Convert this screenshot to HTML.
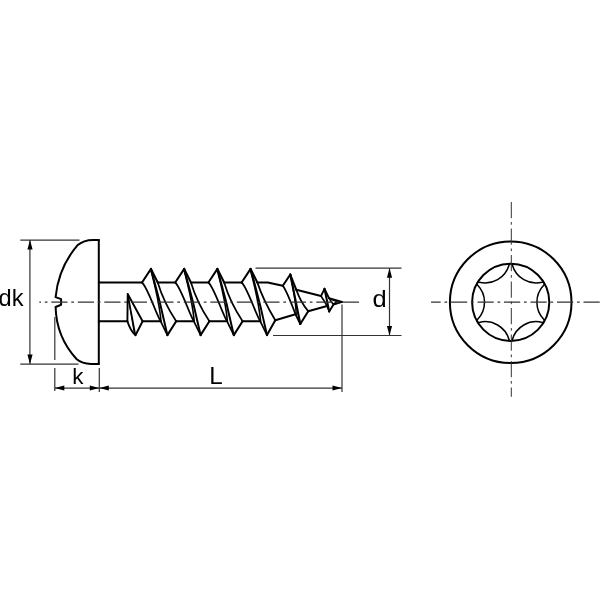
<!DOCTYPE html>
<html><head><meta charset="utf-8"><title>Screw drawing</title>
<style>
html,body{margin:0;padding:0;background:#fff;}
body{width:600px;height:600px;overflow:hidden;font-family:"Liberation Sans",sans-serif;}
svg{display:block;filter:grayscale(1);will-change:transform;}
</style></head><body>
<svg width="600" height="600" viewBox="0 0 600 600">
<rect width="600" height="600" fill="#fff"/>
<path d="M98.8,239.9 L93.2,239.9 Q83.5,239.9 77.4,245.3 A94,94 0 0 0 55.6,297.1 L61.1,299.1 L61.1,304.8 L55.6,307 A80,80 0 0 0 76.5,359 Q82,363.9 91,363.9 L98.8,363.9" fill="none" stroke="#000" stroke-width="2.0" stroke-linejoin="round" stroke-linecap="round" />
<path d="M98.8,239.9 L98.8,363.9" fill="none" stroke="#000" stroke-width="2.0" stroke-linejoin="round" stroke-linecap="round" />
<path d="M98.8,281 Q98.8,282.5 100.5,282.5" fill="none" stroke="#000" stroke-width="1.2" stroke-linejoin="round" stroke-linecap="round" />
<path d="M98.8,322.8 Q98.8,321.3 100.5,321.3" fill="none" stroke="#000" stroke-width="1.2" stroke-linejoin="round" stroke-linecap="round" />
<path d="M98.8,282.50 L142,282.50" fill="none" stroke="#000" stroke-width="2.0" stroke-linejoin="round" stroke-linecap="round" />
<path d="M98.8,321.30 L127.4,321.30" fill="none" stroke="#000" stroke-width="2.0" stroke-linejoin="round" stroke-linecap="round" />
<path d="M142.6,321.30 L160.7,321.30" fill="none" stroke="#000" stroke-width="2.0" stroke-linejoin="round" stroke-linecap="round" />
<path d="M142.00,282.50 L151.00,268.90" fill="none" stroke="#000" stroke-width="2.0" stroke-linejoin="round" stroke-linecap="round" />
<path d="M151.00,268.90 L157.75,282.50" fill="none" stroke="#000" stroke-width="2.0" stroke-linejoin="round" stroke-linecap="round" />
<path d="M151.00,268.90 Q160.20,301.50 167.40,335.10" fill="none" stroke="#000" stroke-width="2.0" stroke-linejoin="round" stroke-linecap="round" />
<path d="M150.80,269.90 Q159.30,301.90 161.00,321.30" fill="none" stroke="#000" stroke-width="1.6" stroke-linejoin="round" stroke-linecap="round" />
<path d="M142.00,282.50 C147.50,287.00 156.20,314.30 160.70,321.30 L167.40,335.10" fill="none" stroke="#000" stroke-width="1.7" stroke-linejoin="round" stroke-linecap="round" />
<path d="M157.75,282.50 Q163.70,302.40 176.20,321.30" fill="none" stroke="#000" stroke-width="1.7" stroke-linejoin="round" stroke-linecap="round" />
<path d="M167.40,335.10 L176.20,321.30" fill="none" stroke="#000" stroke-width="2.0" stroke-linejoin="round" stroke-linecap="round" />
<path d="M157.75,282.50 L175.20,282.50" fill="none" stroke="#000" stroke-width="2.0" stroke-linejoin="round" stroke-linecap="round" />
<path d="M176.20,321.30 L193.90,321.30" fill="none" stroke="#000" stroke-width="2.0" stroke-linejoin="round" stroke-linecap="round" />
<path d="M175.20,282.50 L184.20,268.90" fill="none" stroke="#000" stroke-width="2.0" stroke-linejoin="round" stroke-linecap="round" />
<path d="M184.20,268.90 L190.95,282.50" fill="none" stroke="#000" stroke-width="2.0" stroke-linejoin="round" stroke-linecap="round" />
<path d="M184.20,268.90 Q193.40,301.50 200.60,335.10" fill="none" stroke="#000" stroke-width="2.0" stroke-linejoin="round" stroke-linecap="round" />
<path d="M184.00,269.90 Q192.50,301.90 194.20,321.30" fill="none" stroke="#000" stroke-width="1.6" stroke-linejoin="round" stroke-linecap="round" />
<path d="M175.20,282.50 C180.70,287.00 189.40,314.30 193.90,321.30 L200.60,335.10" fill="none" stroke="#000" stroke-width="1.7" stroke-linejoin="round" stroke-linecap="round" />
<path d="M190.95,282.50 Q196.90,302.40 209.40,321.30" fill="none" stroke="#000" stroke-width="1.7" stroke-linejoin="round" stroke-linecap="round" />
<path d="M200.60,335.10 L209.40,321.30" fill="none" stroke="#000" stroke-width="2.0" stroke-linejoin="round" stroke-linecap="round" />
<path d="M190.95,282.50 L208.40,282.50" fill="none" stroke="#000" stroke-width="2.0" stroke-linejoin="round" stroke-linecap="round" />
<path d="M209.40,321.30 L227.10,321.30" fill="none" stroke="#000" stroke-width="2.0" stroke-linejoin="round" stroke-linecap="round" />
<path d="M208.40,282.50 L217.40,268.90" fill="none" stroke="#000" stroke-width="2.0" stroke-linejoin="round" stroke-linecap="round" />
<path d="M217.40,268.90 L224.15,282.50" fill="none" stroke="#000" stroke-width="2.0" stroke-linejoin="round" stroke-linecap="round" />
<path d="M217.40,268.90 Q226.60,301.50 233.80,335.10" fill="none" stroke="#000" stroke-width="2.0" stroke-linejoin="round" stroke-linecap="round" />
<path d="M217.20,269.90 Q225.70,301.90 227.40,321.30" fill="none" stroke="#000" stroke-width="1.6" stroke-linejoin="round" stroke-linecap="round" />
<path d="M208.40,282.50 C213.90,287.00 222.60,314.30 227.10,321.30 L233.80,335.10" fill="none" stroke="#000" stroke-width="1.7" stroke-linejoin="round" stroke-linecap="round" />
<path d="M224.15,282.50 Q230.10,302.40 242.60,321.30" fill="none" stroke="#000" stroke-width="1.7" stroke-linejoin="round" stroke-linecap="round" />
<path d="M233.80,335.10 L242.60,321.30" fill="none" stroke="#000" stroke-width="2.0" stroke-linejoin="round" stroke-linecap="round" />
<path d="M224.15,282.50 L241.60,282.50" fill="none" stroke="#000" stroke-width="2.0" stroke-linejoin="round" stroke-linecap="round" />
<path d="M242.60,321.30 L260.30,321.30" fill="none" stroke="#000" stroke-width="2.0" stroke-linejoin="round" stroke-linecap="round" />
<path d="M241.60,282.50 L250.60,268.90" fill="none" stroke="#000" stroke-width="2.0" stroke-linejoin="round" stroke-linecap="round" />
<path d="M250.60,268.90 L257.35,282.50" fill="none" stroke="#000" stroke-width="2.0" stroke-linejoin="round" stroke-linecap="round" />
<path d="M250.60,268.90 Q259.80,301.50 267.00,335.10" fill="none" stroke="#000" stroke-width="2.0" stroke-linejoin="round" stroke-linecap="round" />
<path d="M250.40,269.90 Q258.90,301.90 260.60,321.30" fill="none" stroke="#000" stroke-width="1.6" stroke-linejoin="round" stroke-linecap="round" />
<path d="M241.60,282.50 C247.10,287.00 255.80,314.30 260.30,321.30 L267.00,335.10" fill="none" stroke="#000" stroke-width="1.7" stroke-linejoin="round" stroke-linecap="round" />
<path d="M127.7,294 L127.4,321.3 Q130.5,331 135.5,335.3 L142.6,321.3 Z" fill="none" stroke="#000" stroke-width="1.9" stroke-linejoin="round" stroke-linecap="round" />
<path d="M127.7,294 L135.5,335.3" fill="none" stroke="#000" stroke-width="1.5" stroke-linejoin="round" stroke-linecap="round" />
<path d="M128.0,297 L134.3,333.5" fill="none" stroke="#000" stroke-width="1.1" stroke-linejoin="round" stroke-linecap="round" />
<path d="M257.35,282.50 Q263.35,300.50 275.30,320.20" fill="none" stroke="#000" stroke-width="1.8" stroke-linejoin="round" stroke-linecap="round" />
<path d="M267.00,335.10 L275.30,320.20" fill="none" stroke="#000" stroke-width="2.0" stroke-linejoin="round" stroke-linecap="round" />
<path d="M257.35,282.50 L267.7,282.50 L282.8,285.8" fill="none" stroke="#000" stroke-width="2.0" stroke-linejoin="round" stroke-linecap="round" />
<path d="M275.3,320.2 L295.5,314.3" fill="none" stroke="#000" stroke-width="2.0" stroke-linejoin="round" stroke-linecap="round" />
<path d="M282.8,285.8 L290.3,274.5" fill="none" stroke="#000" stroke-width="2.0" stroke-linejoin="round" stroke-linecap="round" />
<path d="M290.3,274.5 L296.3,289.8" fill="none" stroke="#000" stroke-width="2.0" stroke-linejoin="round" stroke-linecap="round" />
<path d="M290.3,274.5 L300.3,324" fill="none" stroke="#000" stroke-width="2.1" stroke-linejoin="round" stroke-linecap="round" />
<path d="M290.3,274.5 Q295.5,298 296.3,315" fill="none" stroke="#000" stroke-width="1.4" stroke-linejoin="round" stroke-linecap="round" />
<path d="M282.8,285.8 C286,290 292,305 295.5,314.3 L300.3,324" fill="none" stroke="#000" stroke-width="1.8" stroke-linejoin="round" stroke-linecap="round" />
<path d="M296.3,289.8 Q301,303 308.2,311.2" fill="none" stroke="#000" stroke-width="1.8" stroke-linejoin="round" stroke-linecap="round" />
<path d="M300.3,324 L308.2,311.2" fill="none" stroke="#000" stroke-width="2.0" stroke-linejoin="round" stroke-linecap="round" />
<path d="M296.3,289.8 L321,296" fill="none" stroke="#000" stroke-width="2.0" stroke-linejoin="round" stroke-linecap="round" />
<path d="M308.2,311.2 L327,306" fill="none" stroke="#000" stroke-width="2.0" stroke-linejoin="round" stroke-linecap="round" />
<path d="M321,296 L324.5,288.8" fill="none" stroke="#000" stroke-width="1.8" stroke-linejoin="round" stroke-linecap="round" />
<path d="M324.5,288.8 L329.2,311.5" fill="none" stroke="#000" stroke-width="2.0" stroke-linejoin="round" stroke-linecap="round" />
<path d="M324.5,288.8 L329,298.2" fill="none" stroke="#000" stroke-width="1.9" stroke-linejoin="round" stroke-linecap="round" />
<path d="M321,296 Q325,302 327,306 L329.2,311.5" fill="none" stroke="#000" stroke-width="1.6" stroke-linejoin="round" stroke-linecap="round" />
<path d="M329,298.2 L342,301.9" fill="none" stroke="#000" stroke-width="1.9" stroke-linejoin="round" stroke-linecap="round" />
<path d="M329.2,311.5 L333.5,304.5 L342,301.9" fill="none" stroke="#000" stroke-width="1.9" stroke-linejoin="round" stroke-linecap="round" />
<path d="M329,298.2 Q331,302 333.5,304.5" fill="none" stroke="#000" stroke-width="1.5" stroke-linejoin="round" stroke-linecap="round" />
<path d="M331,299.5 L337.5,301.8 L333,303.8" fill="none" stroke="#000" stroke-width="1.3" stroke-linejoin="round" stroke-linecap="round" />
<line x1="39.30" y1="302.15" x2="359.60" y2="302.15" stroke="#333" stroke-width="1.1" stroke-dasharray="16.2 3.8 2.7 3.8" stroke-dashoffset="14.5"/>
<line x1="20.30" y1="240.15" x2="79.50" y2="240.15" stroke="#333" stroke-width="1.1" />
<line x1="20.30" y1="364.05" x2="78.50" y2="364.05" stroke="#333" stroke-width="1.2" />
<line x1="29.90" y1="240.00" x2="29.90" y2="364.00" stroke="#333" stroke-width="1.2" />
<line x1="54.80" y1="317.00" x2="54.80" y2="360.00" stroke="#333" stroke-width="1.2" />
<line x1="54.80" y1="368.00" x2="54.80" y2="391.00" stroke="#333" stroke-width="1.2" />
<line x1="99.30" y1="368.00" x2="99.30" y2="392.00" stroke="#333" stroke-width="1.2" />
<line x1="54.80" y1="388.12" x2="99.30" y2="388.12" stroke="#333" stroke-width="1.3" />
<line x1="99.30" y1="388.12" x2="342.00" y2="388.12" stroke="#333" stroke-width="1.3" />
<line x1="342.00" y1="304.50" x2="342.00" y2="392.00" stroke="#333" stroke-width="1.2" />
<line x1="255.50" y1="268.15" x2="401.50" y2="268.15" stroke="#333" stroke-width="1.1" />
<line x1="273.00" y1="335.50" x2="401.50" y2="335.50" stroke="#333" stroke-width="1.0" />
<line x1="389.50" y1="268.20" x2="389.50" y2="335.30" stroke="#333" stroke-width="1.2" />
<polygon points="30.00,240.00 32.60,249.50 27.40,249.50" fill="#000"/>
<polygon points="30.00,364.00 27.40,354.50 32.60,354.50" fill="#000"/>
<polygon points="54.80,388.00 64.30,385.40 64.30,390.60" fill="#000"/>
<polygon points="99.30,388.00 89.80,390.60 89.80,385.40" fill="#000"/>
<polygon points="99.30,388.00 108.80,385.40 108.80,390.60" fill="#000"/>
<polygon points="342.00,388.00 332.50,390.60 332.50,385.40" fill="#000"/>
<polygon points="389.50,268.20 392.10,277.70 386.90,277.70" fill="#000"/>
<polygon points="389.50,335.50 386.90,326.00 392.10,326.00" fill="#000"/>
<circle cx="510.7" cy="302.3" r="60.8" fill="none" stroke="#000" stroke-width="2.0"/>
<circle cx="510.7" cy="302.3" r="38.6" fill="none" stroke="#000" stroke-width="2.0"/>
<path d="M512.33,264.93 A24.85,24.85 0 0 0 542.24,282.20 A1.70,1.70 0 0 1 543.88,285.03 A24.85,24.85 0 0 0 543.88,319.57 A1.70,1.70 0 0 1 542.24,322.40 A24.85,24.85 0 0 0 512.33,339.67 A1.70,1.70 0 0 1 509.07,339.67 A24.85,24.85 0 0 0 479.16,322.40 A1.70,1.70 0 0 1 477.52,319.57 A24.85,24.85 0 0 0 477.52,285.03 A1.70,1.70 0 0 1 479.16,282.20 A24.85,24.85 0 0 0 509.07,264.93 A1.70,1.70 0 0 1 512.33,264.93 Z" fill="none" stroke="#000" stroke-width="1.5" stroke-linejoin="round" stroke-linecap="round" />
<line x1="431.00" y1="302.15" x2="600.00" y2="302.15" stroke="#333" stroke-width="1.1" stroke-dasharray="16.2 3.8 2.7 3.8" stroke-dashoffset="6.5"/>
<line x1="511.30" y1="202.00" x2="511.30" y2="396.80" stroke="#333" stroke-width="1.0" stroke-dasharray="16.2 3.8 2.7 3.8"/>
<text transform="translate(-1.50,306.30) scale(1.02,1)" font-family="Liberation Sans, sans-serif" font-size="23.2" fill="#000">dk</text>
<text transform="translate(72.25,383.60) scale(1.02,1)" font-family="Liberation Sans, sans-serif" font-size="22" fill="#000">k</text>
<text transform="translate(209.25,383.70) scale(1.0,1)" font-family="Liberation Sans, sans-serif" font-size="24.2" fill="#000">L</text>
<text transform="translate(372.45,306.80) scale(1.1,1)" font-family="Liberation Sans, sans-serif" font-size="23.2" fill="#000">d</text>
</svg>
</body></html>
